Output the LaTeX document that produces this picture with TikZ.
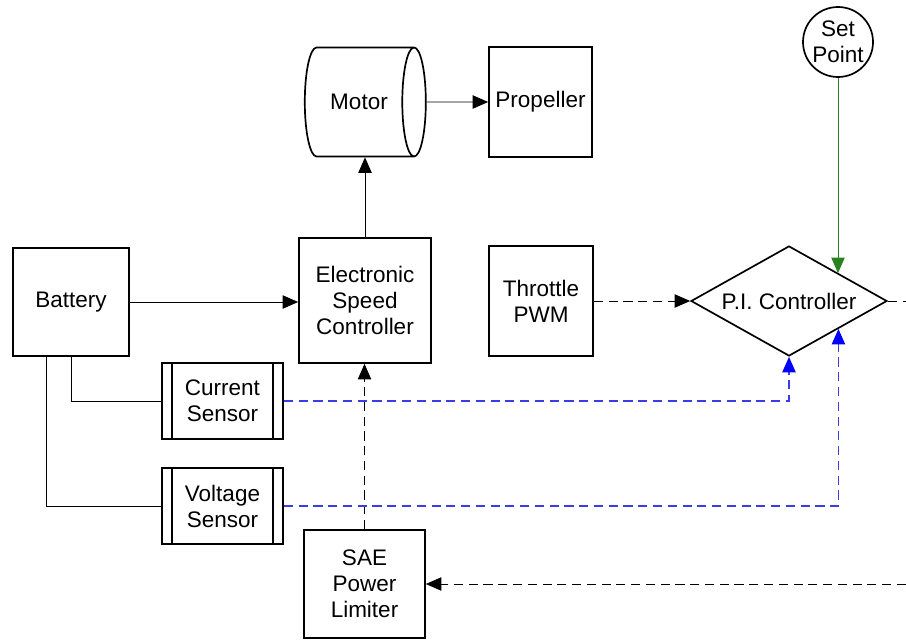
\documentclass[tikz,border=0pt]{standalone}
\usepackage{fontspec}
\setmainfont{Liberation Sans}
\usetikzlibrary{arrows.meta,shapes.geometric}

\definecolor{sensorblue}{RGB}{60,60,230}
\definecolor{setgreen}{RGB}{40,130,30}

\begin{document}
\begin{tikzpicture}[x=0.025cm,y=-0.025cm,
	every node/.style={font=\fontsize{16pt}{18.5pt}\selectfont, align=center},
	block/.style={draw, line width=1.2pt, inner sep=0pt},
	link/.style={line width=0.6pt},
	tip/.style={-{Triangle[length=11pt,width=9.5pt]}},
	bluetip/.style={-{Triangle[length=11pt,width=9.5pt,color=blue]}},
	flow/.style={link, dash pattern=on 6.5pt off 4pt}]

			\useasboundingbox (0,0) rectangle (906,639);

			\node[block, minimum width=2.9cm, minimum height=2.7cm] (battery) at (71,302) {Battery};
			\node[block, minimum width=3.3cm, minimum height=3.125cm] (esc) at (365,300.5) {Electronic\\Speed\\Controller};
			\node[block, cylinder, shape aspect=1.5, minimum height=3.025cm, minimum width=2.725cm] (motor) at (359,102) {Motor};
			\node[block, minimum width=2.575cm, minimum height=2.75cm] (propeller) at (540.5,102) {Propeller};
			\node[block, minimum width=2.6cm, minimum height=2.75cm] (throttle) at (541,301) {Throttle\\PWM};
			\node[block, diamond, shape aspect=1.78, minimum width=4.9cm, minimum height=2.75cm] (pi) at (789,301) {P.I. Controller};
			\node[block, circle, minimum size=1.75cm] (setpoint) at (838,42) {Set\\Point};
			\node[block, minimum width=3.025cm, minimum height=1.9cm] (current) at (222.5,401) {Current\\Sensor};
			\node[block, minimum width=3.025cm, minimum height=1.9cm] (voltage) at (222.5,506) {Voltage\\Sensor};
			\node[block, minimum width=3.025cm, minimum height=2.7cm] (sae) at (364.5,584) {SAE\\Power\\Limiter};

			% double side bars of the sensors
			\foreach \s in {current,voltage}{
				\draw[line width=1.2pt] ([xshift=0.275cm]\s.north west) -- ([xshift=0.275cm]\s.south west);
				\draw[line width=1.2pt] ([xshift=-0.275cm]\s.north east) -- ([xshift=-0.275cm]\s.south east);
			}

			\coordinate (piout) at (906,301);
			\coordinate (limitin) at (906,584);

			\draw[link,tip] (battery.east) -- (battery.east -| esc.west);
			\draw[link,tip] (esc.north) -- (esc.north |- motor.south);
			\draw[link,tip] (motor.east) -- (propeller.west);
			\draw[link] (battery.south) |- (current.west);
			\draw[link] ([xshift=-0.625cm]battery.south) |- (voltage.west);

			\draw[flow,tip] (throttle.east) -- (pi.west);
			\draw[flow] (pi.east) -- (piout);
			\draw[flow,tip] (sae.north) -- (sae.north |- esc.south);
			\draw[flow,tip] (limitin) -- (sae.east);

			\draw[flow,sensorblue,line width=0.8pt,bluetip] (current.east) -| (pi.south);
			\draw[flow,sensorblue,line width=0.8pt,bluetip] (voltage.east) -| (pi.south east);
			\draw[link,setgreen,tip] (setpoint.south) -- (setpoint.south |- pi.north east);

		\end{tikzpicture}
\end{document}
